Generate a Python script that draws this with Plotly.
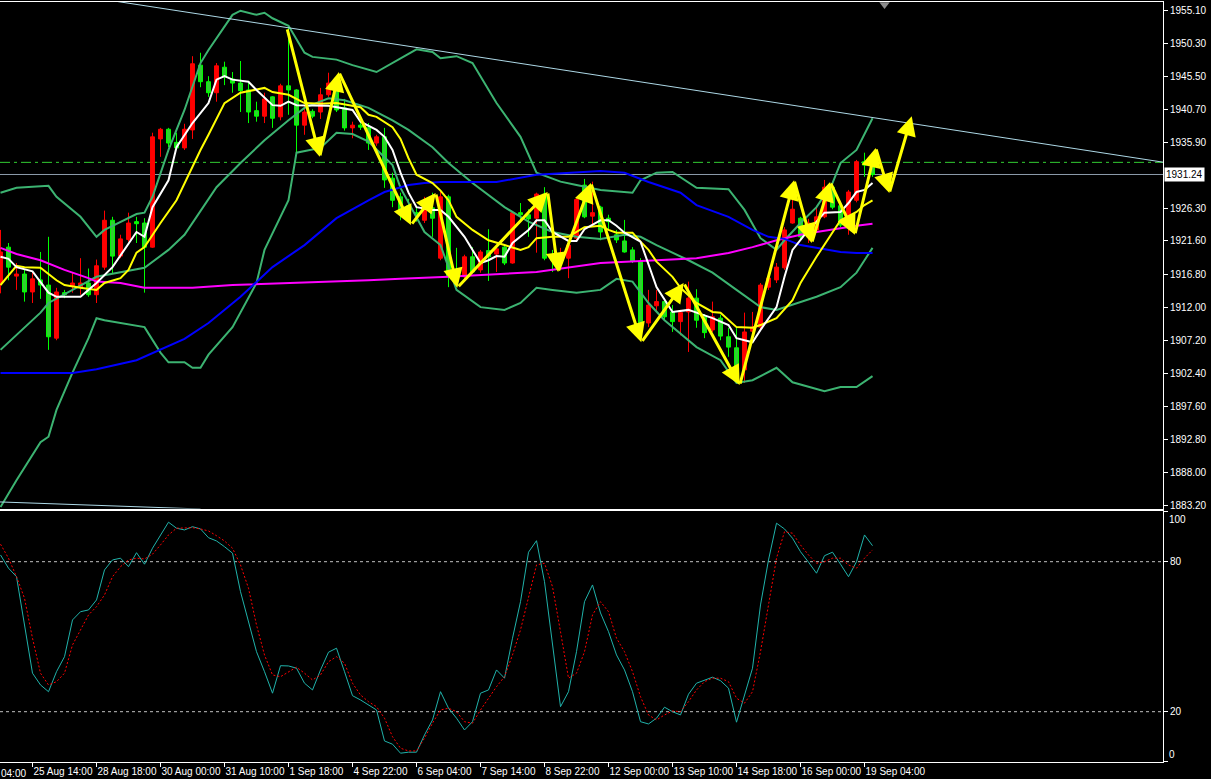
import plotly.graph_objects as go

# ---------------- price data (bar index 0..109) ----------------
opens = [1915.5, 1920.7, 1916.5, 1916.8, 1914.2, 1915.95, 1915.2, 1907.5, 1914.1, 1915.1,
         1914.9, 1915.5, 1913.8, 1917.8, 1924.6, 1919.4, 1921.8, 1924.4, 1924.2, 1920.7,
         1936.4, 1937.8, 1935.9, 1935.1, 1937.7, 1947.1, 1944.7, 1943.1, 1946.8, 1945.1,
         1944.5, 1943.5, 1940.5, 1939.7, 1942.5, 1939.6, 1944.1, 1943.5, 1938.4, 1940.4,
         1940.3, 1942.8, 1944.0, 1940.9, 1938.0, 1938.4, 1938.0, 1935.8, 1936.7, 1930.7,
         1928.0, 1926.7, 1925.7, 1924.6, 1926.4, 1919.1, 1928.0, 1917.0, 1916.4, 1919.3,
         1917.4, 1920.2, 1919.7, 1920.7, 1918.4, 1925.7, 1925.4, 1924.9, 1928.4, 1919.3,
         1918.8, 1919.1, 1922.0, 1929.7, 1925.2, 1926.5, 1924.9, 1922.5, 1921.6, 1920.3,
         1918.6, 1909.7, 1912.2, 1912.8, 1911.3, 1909.9, 1911.3, 1913.3, 1910.6, 1908.7,
         1910.4, 1907.7, 1906.1, 1902.9, 1908.5, 1909.1, 1914.9, 1915.95, 1917.7, 1924.2,
         1924.9, 1922.2, 1923.2, 1925.1, 1929.4, 1926.7, 1924.2, 1927.5, 1933.1, 1932.9]
highs = [1923.2, 1921.3, 1918.4, 1917.4, 1917.1, 1920.0, 1922.2, 1914.8, 1914.5, 1917.1,
         1919.1, 1917.6, 1918.9, 1926.0, 1925.1, 1922.5, 1925.7, 1925.1, 1924.9, 1937.3,
         1938.0, 1938.0, 1937.3, 1938.6, 1948.4, 1948.9, 1945.5, 1947.4, 1947.6, 1946.1,
         1947.7, 1944.7, 1941.8, 1943.1, 1942.6, 1944.4, 1952.6, 1943.6, 1941.3, 1940.7,
         1943.8, 1946.0, 1944.2, 1942.2, 1938.9, 1938.7, 1938.7, 1937.0, 1938.0, 1931.5,
         1928.6, 1927.7, 1926.7, 1928.0, 1928.6, 1928.7, 1928.3, 1920.6, 1919.6, 1920.7,
         1920.3, 1923.3, 1921.0, 1921.0, 1925.8, 1927.1, 1926.2, 1928.6, 1929.4, 1920.3,
         1920.6, 1921.7, 1927.8, 1930.6, 1930.2, 1926.7, 1925.4, 1923.2, 1924.65, 1920.7,
         1919.1, 1914.5, 1914.5, 1913.3, 1912.3, 1911.6, 1915.7, 1914.6, 1911.0, 1912.8,
         1910.9, 1909.0, 1909.0, 1911.2, 1911.3, 1915.5, 1916.5, 1918.4, 1923.6, 1928.0,
         1925.1, 1924.8, 1926.5, 1930.45, 1930.0, 1927.1, 1929.0, 1933.35, 1934.4, 1933.2]
lows = [1914.0, 1915.9, 1914.5, 1912.8, 1912.6, 1913.2, 1905.8, 1907.2, 1913.3, 1914.1,
        1913.8, 1913.5, 1912.6, 1917.4, 1916.9, 1919.1, 1921.5, 1921.3, 1914.1, 1920.6,
        1933.8, 1935.2, 1934.9, 1934.8, 1936.4, 1943.9, 1942.5, 1941.8, 1944.2, 1943.1,
        1940.3, 1938.7, 1938.9, 1938.7, 1938.0, 1939.1, 1939.9, 1934.1, 1937.0, 1939.4,
        1939.3, 1942.5, 1940.3, 1937.6, 1936.5, 1937.7, 1934.8, 1935.4, 1929.3, 1926.5,
        1924.6, 1925.7, 1924.4, 1924.2, 1922.2, 1918.8, 1914.9, 1914.9, 1916.1, 1917.0,
        1917.0, 1915.8, 1917.1, 1918.1, 1918.3, 1924.4, 1922.2, 1919.9, 1918.8, 1917.1,
        1918.0, 1916.2, 1921.7, 1924.9, 1923.9, 1921.7, 1923.2, 1921.3, 1919.9, 1918.4,
        1908.0, 1909.1, 1911.3, 1910.1, 1908.4, 1907.9, 1905.5, 1909.0, 1907.5, 1908.4,
        1907.2, 1904.8, 1902.6, 1901.0, 1907.9, 1908.7, 1914.5, 1915.5, 1917.4, 1924.1,
        1921.9, 1921.3, 1922.9, 1924.9, 1926.2, 1923.6, 1922.5, 1927.2, 1930.9, 1930.9]
closes = [1920.0, 1917.8, 1916.8, 1914.2, 1916.1, 1915.2, 1907.7, 1914.2, 1913.8, 1915.5,
          1915.5, 1913.8, 1918.0, 1924.6, 1919.4, 1921.9, 1924.2, 1924.1, 1920.7, 1936.7,
          1937.8, 1935.8, 1935.1, 1937.8, 1947.3, 1944.7, 1943.1, 1947.0, 1945.4, 1944.5,
          1943.4, 1940.3, 1939.7, 1942.2, 1939.4, 1944.1, 1943.5, 1938.4, 1940.3, 1939.7,
          1942.8, 1944.5, 1940.6, 1938.0, 1938.4, 1938.1, 1935.8, 1936.7, 1930.45, 1927.5,
          1925.8, 1926.4, 1925.4, 1926.8, 1924.9, 1928.0, 1916.4, 1916.0, 1919.3, 1917.1,
          1920.0, 1919.3, 1920.45, 1918.4, 1925.7, 1925.4, 1924.8, 1928.4, 1919.1, 1918.8,
          1919.6, 1921.0, 1927.6, 1925.1, 1925.7, 1922.9, 1924.4, 1921.75, 1920.0, 1918.7,
          1909.1, 1912.3, 1912.8, 1910.6, 1909.9, 1911.2, 1913.3, 1910.1, 1908.3, 1910.6,
          1907.8, 1906.2, 1902.9, 1908.4, 1909.1, 1915.2, 1916.2, 1917.8, 1923.2, 1926.2,
          1922.2, 1924.2, 1925.1, 1929.4, 1926.5, 1923.9, 1928.7, 1933.1, 1932.6, 1931.24]
bars = list(range(len(closes)))

# ---------------- indicator lines (bar, price) ----------------
bb_upper = [(0, 1928.6), (2, 1929.3), (6, 1929.6), (7, 1928.0), (10, 1925.1), (12, 1922.2), (13, 1923.2),
            (15, 1924.4), (17, 1925.5), (18, 1925.7), (19, 1928.0), (21, 1934.8), (23, 1940.6), (25, 1947.4),
            (26, 1949.3), (29, 1954.4), (30, 1955.0), (32, 1954.4), (33, 1954.7), (34, 1953.9), (36, 1952.8),
            (38, 1948.9), (39, 1948.3), (42, 1947.9), (44, 1947.1), (47, 1946.1), (50, 1948.1), (52, 1949.4),
            (54, 1949.0), (55, 1948.1), (57, 1948.4), (59, 1947.4), (62, 1941.6), (65, 1936.7), (67, 1931.5),
            (70, 1930.2), (72, 1929.7), (75, 1929.0), (79, 1928.6), (80, 1930.4), (82, 1931.5), (84, 1931.6),
            (87, 1929.3), (91, 1929.1), (93, 1926.1), (95, 1922.0), (97, 1920.3), (98, 1921.7), (100, 1924.2),
            (102, 1926.5), (104, 1930.0), (105, 1932.9), (107, 1934.8), (109, 1939.4)]
bb_middle = [(0, 1905.8), (5, 1911.2), (6, 1912.6), (12, 1916.4), (18, 1917.7), (21, 1920.3), (23, 1922.5),
             (27, 1929.4), (30, 1932.9), (33, 1936.2), (36, 1939.1), (38, 1940.9), (41, 1942.3), (43, 1942.0),
             (46, 1940.9), (49, 1939.1), (51, 1937.7), (54, 1935.2), (56, 1932.9), (59, 1930.0), (63, 1926.5),
             (66, 1924.4), (69, 1922.9), (72, 1922.2), (75, 1921.9), (78, 1922.5), (80, 1922.2), (82, 1921.0),
             (86, 1918.8), (89, 1917.0), (92, 1914.5), (95, 1912.0), (97, 1911.6), (100, 1912.8), (102, 1913.5),
             (105, 1914.9), (107, 1917.0), (108, 1918.8), (109, 1920.6)]
bb_lower = [(0, 1883.0), (2, 1886.9), (5, 1892.4), (6, 1893.2), (7, 1897.1), (9, 1902.5), (11, 1907.5),
            (12, 1910.4), (13, 1910.1), (18, 1909.1), (20, 1905.4), (21, 1904.0), (23, 1904.0), (24, 1903.2),
            (25, 1903.2), (26, 1905.1), (29, 1909.1), (32, 1915.5), (33, 1920.3), (36, 1927.5), (37, 1934.4),
            (40, 1935.1), (42, 1937.3), (44, 1937.1), (46, 1936.0), (49, 1932.6), (50, 1929.3), (52, 1924.9),
            (53, 1922.9), (55, 1921.0), (56, 1917.7), (57, 1914.5), (60, 1912.0), (63, 1911.6), (65, 1912.6),
            (67, 1914.8), (69, 1914.5), (72, 1914.1), (75, 1914.5), (77, 1916.1), (79, 1915.7), (81, 1912.6),
            (83, 1910.1), (87, 1906.2), (90, 1904.3), (92, 1901.0), (94, 1901.4), (97, 1903.2), (99, 1901.1),
            (103, 1899.8), (105, 1900.4), (107, 1900.4), (109, 1902.0)]
ma_white = [(0, 1919.3), (1, 1919.0), (2, 1917.8), (4, 1917.2), (6, 1914.1), (7, 1913.5), (10, 1913.5),
            (11, 1914.5), (12, 1915.5), (14, 1917.8), (16, 1921.3), (17, 1922.9), (18, 1922.2), (19, 1926.5),
            (21, 1930.4), (22, 1935.2), (24, 1938.7), (26, 1941.6), (27, 1945.0), (28, 1945.5), (29, 1945.0),
            (31, 1944.7), (32, 1943.5), (34, 1941.3), (35, 1941.2), (36, 1941.8), (37, 1941.3), (41, 1941.2),
            (44, 1940.6), (45, 1938.9), (47, 1937.7), (48, 1936.7), (49, 1934.8), (50, 1931.5), (51, 1928.6),
            (52, 1926.5), (54, 1926.1), (55, 1926.1), (56, 1925.1), (58, 1922.2), (60, 1918.4), (61, 1918.8),
            (62, 1919.4), (63, 1919.3), (64, 1921.3), (66, 1923.2), (67, 1924.6), (68, 1924.6), (69, 1922.9),
            (71, 1921.6), (72, 1921.6), (73, 1923.3), (75, 1924.6), (76, 1924.6), (77, 1923.8), (78, 1922.8),
            (80, 1921.5), (81, 1918.1), (82, 1914.9), (84, 1911.3), (86, 1911.6), (87, 1911.2), (89, 1910.4),
            (91, 1909.4), (92, 1907.5), (94, 1906.9), (95, 1908.7), (97, 1912.0), (98, 1916.4), (99, 1920.3),
            (101, 1923.2), (102, 1924.4), (103, 1925.7), (105, 1925.8), (106, 1927.1), (107, 1928.7),
            (108, 1929.0), (109, 1930.0)]
ma_yellow = [(0, 1915.2), (2, 1918.0), (3, 1917.8), (5, 1917.7), (7, 1915.9), (8, 1915.2), (10, 1914.8),
             (12, 1914.5), (13, 1915.5), (15, 1916.2), (16, 1917.4), (17, 1919.9), (18, 1920.7), (20, 1924.2),
             (22, 1927.5), (23, 1930.0), (25, 1934.8), (26, 1937.0), (27, 1939.4), (28, 1941.6), (30, 1943.1),
             (33, 1943.8), (34, 1943.2), (36, 1942.8), (38, 1941.6), (40, 1941.5), (42, 1941.6), (45, 1941.0),
             (46, 1939.9), (47, 1939.6), (49, 1938.1), (50, 1936.4), (51, 1933.6), (52, 1931.2), (54, 1930.0),
             (55, 1928.9), (56, 1927.5), (57, 1925.1), (59, 1923.2), (61, 1921.7), (63, 1921.0), (65, 1920.3),
             (66, 1920.7), (67, 1922.0), (69, 1922.2), (71, 1922.2), (72, 1922.9), (73, 1923.6), (75, 1923.8),
             (76, 1923.2), (77, 1922.8), (79, 1922.8), (80, 1921.5), (81, 1920.3), (82, 1918.6), (84, 1916.4),
             (85, 1914.8), (87, 1912.6), (89, 1911.3), (90, 1911.2), (92, 1909.1), (94, 1909.0), (95, 1909.4),
             (97, 1910.4), (99, 1913.0), (100, 1915.5), (102, 1919.3), (104, 1922.8), (105, 1924.6),
             (107, 1925.8), (108, 1926.8), (109, 1927.5)]
ma_blue = [(0, 1902.45), (9, 1902.45), (12, 1903.0), (17, 1904.3), (23, 1907.4), (26, 1909.7), (30, 1913.5),
           (31, 1914.6), (34, 1917.8), (38, 1921.0), (42, 1924.9), (46, 1927.5), (48, 1928.7), (51, 1929.7),
           (53, 1930.0), (55, 1930.15), (62, 1930.15), (67, 1931.2), (71, 1931.5), (75, 1931.75), (78, 1931.5),
           (81, 1930.15), (85, 1928.6), (87, 1926.8), (91, 1925.1), (94, 1923.2), (96, 1922.2), (98, 1921.9),
           (100, 1921.0), (102, 1920.6), (105, 1920.0), (107, 1919.85), (109, 1919.85)]
ma_magenta = [(0, 1920.6), (2, 1919.7), (5, 1918.8), (8, 1917.4), (11, 1916.2), (12, 1915.7), (15, 1915.5),
              (18, 1914.8), (21, 1914.8), (24, 1914.8), (29, 1915.2), (37, 1915.5), (46, 1915.9), (50, 1916.1),
              (56, 1916.4), (67, 1917.1), (75, 1918.4), (82, 1918.8), (87, 1919.1), (91, 1919.85), (94, 1920.7),
              (97, 1921.7), (100, 1922.5), (102, 1922.9), (105, 1923.5), (107, 1923.8), (109, 1924.1)]

# ---------------- stochastic (bar 0..109) ----------------
stoch_k = [82.7, 77.4, 74.0, 54.7, 35.4, 30.7, 28.0, 36.0, 42.0, 56.7,
           60.0, 60.7, 64.7, 76.7, 80.7, 81.4, 78.0, 83.6, 79.0, 85.4,
           90.7, 95.8, 93.4, 92.7, 94.0, 93.1, 89.6, 88.3, 86.0, 83.4,
           68.0, 56.0, 44.0, 36.0, 27.4, 38.4, 38.3, 37.4, 31.4, 28.7,
           36.7, 43.8, 45.4, 36.0, 26.4, 24.7, 22.7, 20.7, 8.3, 7.0,
           3.4, 3.8, 3.8, 10.7, 16.7, 28.0, 21.4, 17.4, 12.7, 16.0,
           27.4, 28.7, 36.7, 33.4, 49.4, 64.0, 83.8, 88.4, 72.0, 46.7,
           22.0, 28.0, 44.0, 64.0, 70.7, 59.5, 52.0, 42.7, 36.7, 28.0,
           16.0, 15.1, 17.4, 21.8, 20.0, 18.7, 27.0, 31.4, 32.7, 33.8,
           32.4, 29.4, 15.8, 26.7, 37.4, 62.7, 80.7, 95.4, 93.1, 89.4,
           84.0, 79.8, 75.4, 82.4, 83.8, 79.0, 74.0, 80.0, 90.7, 86.4]
stoch_d = [87.0, 81.4, 74.0, 65.4, 49.4, 35.4, 30.7, 32.0, 35.4, 46.7,
           52.7, 58.7, 62.0, 66.7, 74.0, 78.0, 80.7, 81.4, 81.1, 83.0,
           86.7, 90.7, 93.4, 93.6, 93.6, 93.1, 92.3, 90.4, 88.3, 85.4,
           78.7, 69.4, 54.7, 42.7, 34.7, 34.0, 36.0, 37.8, 35.4, 32.7,
           34.7, 40.0, 42.0, 39.4, 31.4, 26.7, 24.0, 22.0, 17.4, 10.0,
           5.4, 4.3, 4.3, 9.4, 15.4, 20.7, 21.4, 20.0, 16.0, 15.4,
           20.7, 25.4, 30.0, 34.0, 42.7, 52.7, 66.0, 78.7, 79.4, 70.0,
           52.0, 33.4, 35.4, 44.0, 58.7, 64.0, 60.0, 49.4, 44.0, 36.0,
           26.0, 18.7, 16.7, 18.7, 20.3, 20.0, 24.0, 28.7, 32.0, 33.4,
           33.4, 32.0, 25.4, 23.4, 28.0, 44.0, 62.7, 81.4, 92.0, 91.4,
           86.7, 82.7, 79.4, 80.0, 81.4, 81.4, 78.7, 77.4, 81.4, 84.7]
stoch_levels = [20, 80]

# ---------------- drawn objects ----------------
zigzag_bar = [35.8, 39.9, 42.3, 51.3, 54.4, 57.1, 68.4, 69.7, 73.8, 80.1, 85.4, 92.4,
              99.2, 101.4, 103.7, 106.8, 109.4, 111.1, 113.9]
zigzag_price = [1952.5, 1933.8, 1946.1, 1923.9, 1928.55, 1914.8, 1928.7, 1917.1, 1930.0, 1906.9,
                1915.5, 1900.7, 1930.4, 1921.3, 1930.15, 1922.5, 1935.1, 1928.55, 1939.7]
trend1_bar = [12, 145.3]
trend1_price = [1956.8, 1933.03]
trend2_bar = [-1, 25]
trend2_price = [1883.78, 1882.72]
level_dashdot = 1933.0
bid_price = 1931.24
shift_bar = 110.5

# ---------------- axes labels ----------------
price_ticks = [1955.10, 1950.30, 1945.50, 1940.70, 1935.90, 1926.30, 1921.60, 1916.80,
               1912.00, 1907.20, 1902.40, 1897.60, 1892.80, 1888.00, 1883.20]
time_tick_bars = [4, 12, 20, 28, 36, 44, 52, 60, 68, 76, 84, 92, 100, 108]
time_tick_labels = ["25 Aug 14:00", "28 Aug 18:00", "30 Aug 00:00", "31 Aug 10:00", "1 Sep 18:00",
                    "4 Sep 22:00", "6 Sep 04:00", "7 Sep 14:00", "8 Sep 22:00", "12 Sep 00:00",
                    "13 Sep 10:00", "14 Sep 18:00", "16 Sep 00:00", "19 Sep 04:00"]
first_label = "04:00"   # visible tail of the label left of the first tick

X_RANGE = [-0.0625, 145.31]
FONT = "Liberation Sans, Arial, sans-serif"

fig = go.Figure()

fig.add_trace(go.Candlestick(
    x=bars, open=opens, high=highs, low=lows, close=closes,
    increasing=dict(line=dict(color="#FF0000", width=1), fillcolor="#FF0000"),
    decreasing=dict(line=dict(color="#00FF00", width=1), fillcolor="#32CD32"),
    whiskerwidth=0, xaxis="x", yaxis="y", showlegend=False, hoverinfo="skip"))


def add_line(points, color, width=2, dash=None):
    xs = [p[0] for p in points]
    ys = [p[1] for p in points]
    fig.add_trace(go.Scatter(x=xs, y=ys, mode="lines", xaxis="x", yaxis="y",
                             line=dict(color=color, width=width, dash=dash),
                             showlegend=False, hoverinfo="skip"))


for band in (bb_upper, bb_middle, bb_lower):
    add_line(band, "#3CB371")
add_line(ma_magenta, "#FF00FF")
add_line(ma_blue, "#0000FF")
add_line(ma_yellow, "#FFFF00")
add_line(ma_white, "#FFFFFF")

fig.add_trace(go.Scatter(x=trend1_bar, y=trend1_price, mode="lines", xaxis="x", yaxis="y",
                         line=dict(color="#ADD8E6", width=1), showlegend=False, hoverinfo="skip"))
fig.add_trace(go.Scatter(x=trend2_bar, y=trend2_price, mode="lines", xaxis="x", yaxis="y",
                         line=dict(color="#ADD8E6", width=1), showlegend=False, hoverinfo="skip"))

fig.add_trace(go.Scatter(x=[shift_bar], y=[1955.9], mode="markers", xaxis="x", yaxis="y",
                         marker=dict(symbol="triangle-down", size=9, color="#8A8A8A"),
                         cliponaxis=False, showlegend=False, hoverinfo="skip"))

# stochastic
fig.add_trace(go.Scatter(x=bars, y=stoch_k, mode="lines", xaxis="x2", yaxis="y2",
                         line=dict(color="#20B2AA", width=1), showlegend=False, hoverinfo="skip"))
fig.add_trace(go.Scatter(x=bars, y=stoch_d, mode="lines", xaxis="x2", yaxis="y2",
                         line=dict(color="#FF0000", width=1, dash="2px,2px"), showlegend=False,
                         hoverinfo="skip"))

shapes = [
    dict(type="line", xref="paper", x0=0, x1=1, yref="y", y0=level_dashdot, y1=level_dashdot,
         line=dict(color="#32CD32", width=1, dash="10px,4px,3px,4px"), layer="below"),
    dict(type="line", xref="paper", x0=0, x1=1, yref="y", y0=bid_price, y1=bid_price,
         line=dict(color="#8C9BAA", width=1), layer="below"),
]
for lv in stoch_levels:
    shapes.append(dict(type="line", xref="paper", x0=0, x1=1, yref="y2", y0=lv, y1=lv,
                       line=dict(color="#C0C0C0", width=1, dash="3px,3px"), layer="below"))

annotations = []
for i in range(len(zigzag_bar) - 1):
    annotations.append(dict(x=zigzag_bar[i + 1], y=zigzag_price[i + 1],
                            ax=zigzag_bar[i], ay=zigzag_price[i],
                            xref="x", yref="y", axref="x", ayref="y", text="",
                            showarrow=True, arrowhead=2, arrowsize=1.3, arrowwidth=3,
                            arrowcolor="#FFFF00", standoff=0, startstandoff=0))
annotations.append(dict(x=1, xref="paper", xanchor="left", xshift=1, y=bid_price, yref="y",
                        text=f"{bid_price:.2f}", showarrow=False, bgcolor="#FFFFFF",
                        font=dict(color="#000000", size=10, family=FONT), borderpad=1))
annotations.append(dict(x=1, xref="paper", xanchor="left", xshift=4, y=100, yref="y2", yanchor="top",
                        text="100", showarrow=False, font=dict(color="#FFFFFF", size=10, family=FONT)))
annotations.append(dict(x=1, xref="paper", xanchor="left", xshift=4, y=0, yref="y2", yanchor="bottom",
                        text="0", showarrow=False, font=dict(color="#FFFFFF", size=10, family=FONT)))
annotations.append(dict(x=0, xref="paper", xanchor="left", xshift=-1, y=0, yref="paper",
                        yanchor="top", yshift=-4, text=first_label, showarrow=False,
                        font=dict(color="#FFFFFF", size=10, family=FONT)))

fig.update_layout(
    width=1211, height=779,
    margin=dict(l=0, r=48, t=2, b=17, autoexpand=False),
    paper_bgcolor="#000000", plot_bgcolor="#000000",
    showlegend=False, boxgap=0.3,
    font=dict(family=FONT, size=10, color="#FFFFFF"),
    shapes=shapes, annotations=annotations,
    xaxis=dict(domain=[0, 1], range=X_RANGE, anchor="y", showline=True, mirror=True,
               linecolor="#FFFFFF", linewidth=1, showgrid=False, zeroline=False, automargin=False,
               showticklabels=False, ticks="", rangeslider=dict(visible=False), fixedrange=True),
    yaxis=dict(domain=[0.33355, 1], range=[1882.79, 1956.26], side="right", anchor="x",
               showline=True, linecolor="#FFFFFF", linewidth=1, showgrid=False, zeroline=False,
               automargin=False,
               tickvals=price_ticks, ticktext=[f"{v:.2f}" for v in price_ticks],
               ticks="outside", ticklen=4, tickcolor="#FFFFFF", tickfont=dict(size=10)),
    xaxis2=dict(domain=[0, 1], range=X_RANGE, anchor="y2", matches="x", showline=True, mirror=True,
                linecolor="#FFFFFF", linewidth=1, showgrid=False, zeroline=False, automargin=False,
                tickvals=time_tick_bars, ticktext=time_tick_labels, ticks="outside", ticklen=4,
                tickangle=0, tickcolor="#FFFFFF", ticklabelposition="outside right",
                tickfont=dict(size=10)),
    yaxis2=dict(domain=[0, 0.33066], range=[-0.12, 100.4], side="right", anchor="x2",
                showline=True, linecolor="#FFFFFF", linewidth=1, showgrid=False, zeroline=False,
                automargin=False,
                tickvals=[0, 20, 80, 100], ticktext=["", "20", "80", ""], ticks="outside", ticklen=4,
                tickcolor="#FFFFFF", tickfont=dict(size=10)),
)

fig.write_html(
    "out.html",
    config={"displayModeBar": False},
    post_script="document.body.style.margin='0px';document.body.style.background='#000000';",
)
